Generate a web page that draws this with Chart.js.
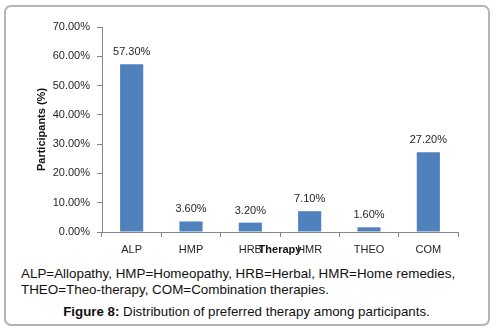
<!DOCTYPE html>
<html>
<head>
<meta charset="utf-8">
<script src="https://cdn.jsdelivr.net/npm/chart.js@4.4.0/dist/chart.umd.min.js"></script>
<style>
  body { margin: 0; background: #fff; font-family: "Liberation Sans", Arial, sans-serif; }
  #wrap { position: relative; width: 497px; height: 331px; overflow: hidden; }
  #chartBox { position: absolute; left: 0; top: 0; width: 497px; height: 262px; }
  #frame { position: absolute; left: 4px; top: 5px; width: 482px; height: 317px;
           border: 2px solid #b4b4b4; border-radius: 7px; pointer-events: none; }
  #legendText { position: absolute; left: 21px; top: 266px; font-size: 13.4px; line-height: 16px; color: #111; }
  #figTitle { position: absolute; left: 0; width: 493px; top: 304px; text-align: center; font-size: 13.3px; color: #111; }
</style>
</head>
<body>
<div id="wrap">
  <div id="chartBox"><canvas id="myChart"></canvas></div>
  <div id="legendText">ALP=Allopathy, HMP=Homeopathy, HRB=Herbal, HMR=Home remedies,<br>THEO=Theo-therapy, COM=Combination therapies.</div>
  <div id="figTitle"><b>Figure 8:</b> Distribution of preferred therapy among participants.</div>
  <div id="frame"></div>
</div>
<script>
// data
const therapies = ['ALP', 'HMP', 'HRB', 'HMR', 'THEO', 'COM'];
const participants = [57.3, 3.6, 3.2, 7.1, 1.6, 27.2];
const yMin = 0, yMax = 70, yStep = 10;

// draws the value above each bar
const barValues = {
    id: 'barValues',
    afterDatasetsDraw(chart) {
        const ctx = chart.ctx;
        const meta = chart.getDatasetMeta(0);
        ctx.save();
        ctx.font = '11px "Liberation Sans", Arial, sans-serif';
        ctx.fillStyle = '#262626';
        ctx.textAlign = 'center';
        ctx.textBaseline = 'middle';
        meta.data.forEach((bar, i) => {
            ctx.fillText(participants[i].toFixed(2) + '%', bar.x, bar.y - 12);
        });
        ctx.restore();
    }
};

const ctx = document.getElementById('myChart').getContext('2d');
const myChart = new Chart(ctx, {
    type: 'bar',
    data: {
        labels: therapies,
        datasets: [{
            data: participants,
            backgroundColor: '#4F81BD',
            borderWidth: 0,
            categoryPercentage: 1,
            barPercentage: 0.39
        }]
    },
    options: {
        responsive: true,
        maintainAspectRatio: false,
        animation: false,
        layout: { padding: { left: 31, right: 39, top: 27, bottom: 0 } },
        plugins: { legend: { display: false }, tooltip: { enabled: false } },
        scales: {
            y: {
                min: yMin,
                max: yMax,
                ticks: {
                    stepSize: yStep,
                    padding: 7,
                    color: '#262626',
                    font: { family: '"Liberation Sans", Arial, sans-serif', size: 11 },
                    callback: v => v.toFixed(2) + '%'
                },
                grid: { drawOnChartArea: false, drawTicks: true, tickLength: 5, color: '#868686' },
                border: { display: true, color: '#868686' },
                title: {
                    display: true,
                    text: 'Participants (%)',
                    color: '#111',
                    padding: { top: 4, bottom: 4 },
                    font: { family: '"Liberation Sans", Arial, sans-serif', size: 11, weight: 'bold' }
                },
                afterFit: s => { s.width = 71; }
            },
            x: {
                ticks: {
                    padding: 6,
                    color: '#262626',
                    font: { family: '"Liberation Sans", Arial, sans-serif', size: 11 }
                },
                grid: { drawOnChartArea: false, drawTicks: true, tickLength: 5, color: '#868686', offset: true },
                border: { display: true, color: '#868686' },
                title: {
                    display: true,
                    text: 'Therapy',
                    color: '#111',
                    padding: { top: 0, bottom: 5 },
                    font: { family: '"Liberation Sans", Arial, sans-serif', size: 11, weight: 'bold' }
                },
                afterFit: s => { s.height = 30; }
            }
        }
    },
    plugins: [barValues]
});
</script>
</body>
</html>
